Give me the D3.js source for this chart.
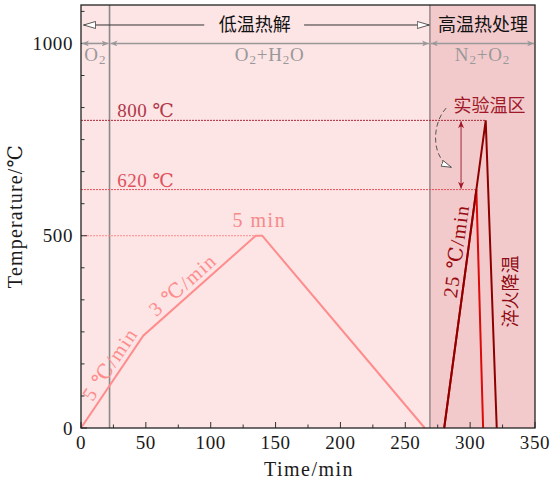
<!DOCTYPE html>
<html>
<head>
<meta charset="utf-8">
<script src="https://cdn.jsdelivr.net/npm/d3@7"></script>
<style>
  body { margin: 0; background: #fff; }
</style>
</head>
<body>
<div id="chart"></div>
<script>
// datos
const lowTime = [0, 48, 134.7, 139.7, 265];
const lowTemp = [0, 240, 500, 500, 0];
const hiTime800 = [280, 312, 320.5];
const hiTemp800 = [0, 800, 0];
const hiTime620 = [280, 304.8, 310];
const hiTemp620 = [0, 620, 0];
const xTicks = [0, 50, 100, 150, 200, 250, 300, 350];
const yTicks = [0, 500, 1000];
const zoneBounds = [0, 22, 269, 350];
const gasLabels = ["O2", "O2+H2O", "N2+O2"];
const levels = [800, 620, 500];

const SERIF = "'Liberation Serif', 'DejaVu Serif', serif";
const CJK = "'Noto Sans CJK SC', sans-serif";

const svgWidth = 551, svgHeight = 486;
const margin = { top: 5, right: 16, bottom: 58, left: 81 };
const width = svgWidth - margin.left - margin.right;
const height = svgHeight - margin.top - margin.bottom;

const svg = d3.select("#chart").append("svg")
    .attr("width", svgWidth).attr("height", svgHeight)
    .attr("font-family", SERIF);

const defs = svg.append("defs");
function marker(id, path, fill, stroke, w, h, refX) {
    defs.append("marker").attr("id", id)
        .attr("viewBox", `0 0 ${w} ${h}`).attr("refX", refX).attr("refY", h / 2)
        .attr("markerWidth", w).attr("markerHeight", h)
        .attr("markerUnits", "userSpaceOnUse").attr("orient", "auto-start-reverse")
        .append("path").attr("d", path).attr("fill", fill)
        .attr("stroke", stroke).attr("stroke-width", 0.8);
}
marker("open", "M0.5,0.5 L12.5,4 L0.5,7.5 Z", "#fff", "#333", 13, 8, 12.5);
marker("gray", "M0,0 L7,3 L0,6 L2,3 Z", "#999", "none", 7, 6, 7);
marker("dred", "M0,0 L7,3 L0,6 L2,3 Z", "#a01828", "none", 7, 6, 7);
marker("dash", "M0.5,0.5 L10.5,3.5 L0.5,6.5 Z", "#fff", "#444", 11, 7, 10.5);

const g = svg.append("g").attr("transform", `translate(${margin.left}, ${margin.top})`);

const x = d3.scaleLinear().domain([0, 350]).range([0, width]);
const y = d3.scaleLinear().domain([0, 1100]).range([height, 0]);

// Fondos
g.append("rect").attr("x", x(zoneBounds[0])).attr("width", x(zoneBounds[2]) - x(zoneBounds[0]))
    .attr("y", 0).attr("height", height).attr("fill", "#fde4e5");
g.append("rect").attr("x", x(zoneBounds[2])).attr("width", x(zoneBounds[3]) - x(zoneBounds[2]))
    .attr("y", 0).attr("height", height).attr("fill", "#f2cacc");

// Lineas verticales de separacion
g.append("line").attr("x1", x(zoneBounds[1])).attr("x2", x(zoneBounds[1]))
    .attr("y1", 0).attr("y2", height).attr("stroke", "#8a8a8a").attr("stroke-width", 1.6);
g.append("line").attr("x1", x(zoneBounds[2])).attr("x2", x(zoneBounds[2]))
    .attr("y1", 0).attr("y2", height).attr("stroke", "#555").attr("stroke-width", 0.9);

// Lineas discontinuas de nivel
const levelEnd = [312, 304.8, 134.7];
const levelColor = ["#a82838", "#e8505a", "#ff8c8c"];
levels.forEach((lv, i) => {
    g.append("line").attr("x1", x(0)).attr("x2", x(levelEnd[i]))
        .attr("y1", y(lv)).attr("y2", y(lv))
        .attr("stroke", levelColor[i]).attr("stroke-width", 1)
        .attr("stroke-dasharray", "2,1");
});

// Curvas
const line = d3.line().x(d => x(d[0])).y(d => y(d[1]));
g.append("path").datum(lowTime.map((t, i) => [t, lowTemp[i]]))
    .attr("d", line).attr("fill", "none").attr("stroke", "#ff8c8c").attr("stroke-width", 2);
g.append("path").datum(hiTime620.map((t, i) => [t, hiTemp620[i]]))
    .attr("d", line).attr("fill", "none").attr("stroke", "#dd0a0a").attr("stroke-width", 2);
g.append("path").datum(hiTime800.map((t, i) => [t, hiTemp800[i]]))
    .attr("d", line).attr("fill", "none").attr("stroke", "#8e0000").attr("stroke-width", 2);

// Ejes (ticks hacia dentro)
const xMinor = d3.range(0, 351, 25);
const yMinor = d3.range(0, 1100, 500 / 6);
g.selectAll(".xminor").data(xMinor).enter().append("line")
    .attr("x1", d => x(d)).attr("x2", d => x(d))
    .attr("y1", height).attr("y2", d => height - (d % 50 === 0 ? 6 : 3.5))
    .attr("stroke", "#333").attr("stroke-width", 1);
g.selectAll(".yminor").data(yMinor).enter().append("line")
    .attr("y1", d => y(d)).attr("y2", d => y(d))
    .attr("x1", 0).attr("x2", d => (Math.abs(d % 500) < 1 ? 6 : 3.5))
    .attr("stroke", "#333").attr("stroke-width", 1);

g.selectAll(".xlab").data(xTicks).enter().append("text")
    .attr("x", d => x(d)).attr("y", height + 21)
    .attr("text-anchor", "middle").attr("font-size", 19).attr("letter-spacing", 0.6)
    .attr("fill", "#1a1a1a").text(d => d);
g.selectAll(".ylab").data(yTicks).enter().append("text")
    .attr("x", -8).attr("y", d => y(d)).attr("dy", "0.35em")
    .attr("text-anchor", "end").attr("font-size", 19).attr("letter-spacing", 0.6)
    .attr("fill", "#1a1a1a").text(d => d);

svg.append("text").attr("x", margin.left + width / 2 + 1).attr("y", 476)
    .attr("text-anchor", "middle").attr("font-size", 20).attr("letter-spacing", 1.5)
    .attr("fill", "#1a1a1a").text("Time/min");
svg.append("text").attr("transform", `translate(22, ${margin.top + 211}) rotate(-90)`)
    .attr("text-anchor", "middle").attr("font-size", 20).attr("letter-spacing", 1.2)
    .attr("fill", "#1a1a1a").text("Temperature/℃");

// Marco
g.append("rect").attr("width", width).attr("height", height)
    .attr("fill", "none").attr("stroke", "#222").attr("stroke-width", 1.3);

// Etiquetas superiores
const topY = 1048;
g.append("line").attr("x1", x(2)).attr("x2", x(95)).attr("y1", y(topY)).attr("y2", y(topY))
    .attr("stroke", "#333").attr("stroke-width", 1).attr("marker-start", "url(#open)");
g.append("line").attr("x1", x(172)).attr("x2", x(268.5)).attr("y1", y(topY)).attr("y2", y(topY))
    .attr("stroke", "#333").attr("stroke-width", 1).attr("marker-end", "url(#open)");
g.append("text").attr("font-family", CJK).attr("x", x(134)).attr("y", y(topY)).attr("dy", "0.36em")
    .attr("text-anchor", "middle").attr("font-size", 18).attr("fill", "#111").text("低温热解");
g.append("text").attr("font-family", CJK).attr("x", x(310)).attr("y", y(topY)).attr("dy", "0.36em")
    .attr("text-anchor", "middle").attr("font-size", 18).attr("fill", "#111").text("高温热处理");

// Linea de gases con flechas
for (let i = 0; i < 3; i++) {
    const a = zoneBounds[i], b = zoneBounds[i + 1];
    g.append("line").attr("x1", x(a) + 1).attr("x2", x(b) - 1)
        .attr("y1", y(1000)).attr("y2", y(1000))
        .attr("stroke", "#999").attr("stroke-width", 1.6)
        .attr("marker-start", "url(#gray)").attr("marker-end", "url(#gray)");
    const lab = g.append("text").attr("x", x((a + b) / 2)).attr("y", y(1000) + 21)
        .attr("text-anchor", "middle").attr("font-size", 19).attr("letter-spacing", 0.8)
        .attr("fill", "#999");
    gasLabels[i].split(/(\d)/).forEach(part => {
        if (part === "") return;
        if (/\d/.test(part)) {
            lab.append("tspan").attr("font-size", 13).attr("dy", 3).text(part);
        } else {
            lab.append("tspan").attr("dy", lab.selectAll("tspan").size() ? -3 : 0).text(part);
        }
    });
}

// Etiquetas de nivel
g.append("text").attr("x", x(28)).attr("y", y(810)).attr("font-size", 19).attr("letter-spacing", 0.5)
    .attr("fill", "#b03848").text("800 ℃");
g.append("text").attr("x", x(28)).attr("y", y(627)).attr("font-size", 19).attr("letter-spacing", 0.5)
    .attr("fill", "#e0505c").text("620 ℃");
g.append("text").attr("x", x(137.5)).attr("y", y(522)).attr("font-size", 20).attr("letter-spacing", 1.5)
    .attr("text-anchor", "middle").attr("fill", "#f58a8a").text("5 min");

// Texto a lo largo de un segmento
function slopeText(p0, p1, t, label, color, size) {
    const xa = x(p0[0]), ya = y(p0[1]), xb = x(p1[0]), yb = y(p1[1]);
    const ang = Math.atan2(yb - ya, xb - xa) * 180 / Math.PI;
    const px = xa + (xb - xa) * t, py = ya + (yb - ya) * t;
    g.append("text")
        .attr("transform", `translate(${px}, ${py}) rotate(${ang})`)
        .attr("dy", -5).attr("text-anchor", "middle")
        .attr("font-size", size).attr("letter-spacing", 1.2)
        .attr("fill", color).text(label);
}
slopeText([0, 0], [48, 240], 0.62, "5 ℃/min", "#ff8c8c", 20);
slopeText([48, 240], [134.7, 500], 0.42, "3 ℃/min", "#ff8c8c", 20);
slopeText([280, 0], [312, 800], 0.57, "25 ℃/min", "#9a0a10", 20);

// Zona experimental
g.append("text").attr("font-family", CJK).attr("x", x(315)).attr("y", y(823))
    .attr("text-anchor", "middle").attr("font-size", 18).attr("fill", "#a01828").text("实验温区");
g.append("line").attr("x1", x(293)).attr("x2", x(293)).attr("y1", y(798)).attr("y2", y(622))
    .attr("stroke", "#b04050").attr("stroke-width", 1.2)
    .attr("marker-start", "url(#dred)").attr("marker-end", "url(#dred)");
g.append("path")
    .attr("d", `M${x(281.5)},${y(832)} C${x(270)},${y(790)} ${x(270)},${y(700)} ${x(285.5)},${y(678)}`)
    .attr("fill", "none").attr("stroke", "#555").attr("stroke-width", 1)
    .attr("stroke-dasharray", "5,3").attr("marker-end", "url(#dash)");

g.append("text").attr("font-family", CJK)
    .attr("transform", `translate(${x(331.5)}, ${y(355)}) rotate(-90)`)
    .attr("text-anchor", "middle").attr("dy", "0.36em")
    .attr("font-size", 18).attr("fill", "#8e0a14").text("淬火降温");
</script>
</body>
</html>
